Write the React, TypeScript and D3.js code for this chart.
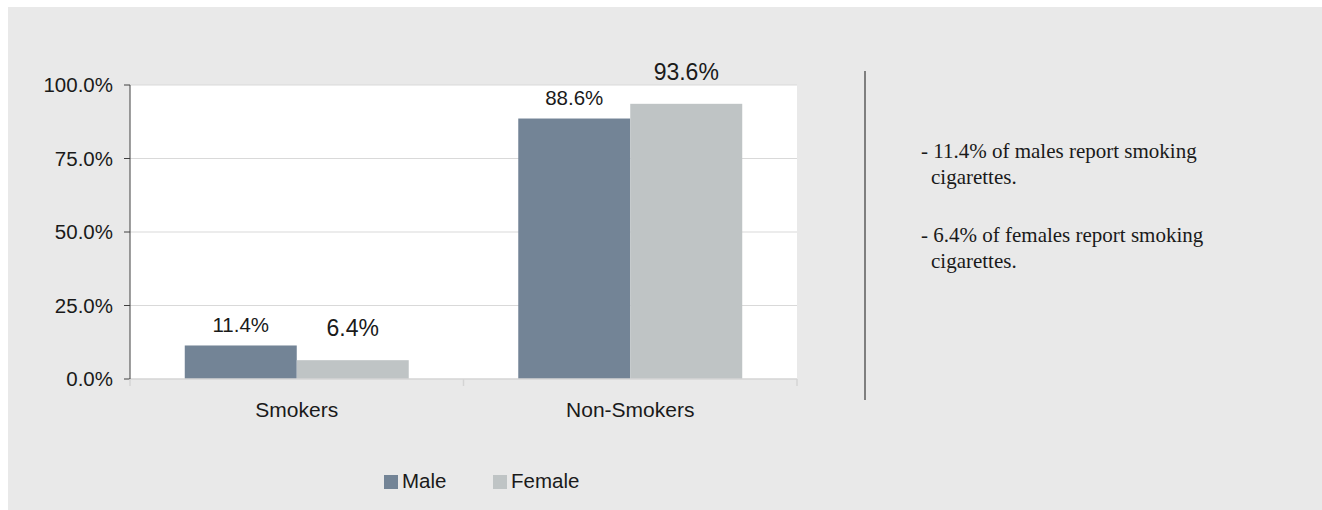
import React, { useEffect } from "react";
import * as d3 from "d3";

const categories = ["Smokers", "Non-Smokers"];
const seriesNames = ["Male", "Female"];
const maleValues = [0.114, 0.886];
const femaleValues = [0.064, 0.936];
const yTicks = [0, 0.25, 0.5, 0.75, 1.0];
const notes = [
  ["- 11.4% of males report smoking", "cigarettes."],
  ["- 6.4% of females report smoking", "cigarettes."],
];

const colors: Record<string, string> = { Male: "#738496", Female: "#bfc4c5" };

export default function App() {
  const W = 1322;
  const H = 510;
  const plot = { left: 130, right: 797, top: 85, bottom: 379 };

  useEffect(() => {
    document.body.style.overflow = "hidden";
    document.documentElement.style.overflow = "hidden";
  }, []);

  const x0 = d3.scaleBand<string>().domain(categories).range([plot.left, plot.right]).paddingInner(0).paddingOuter(0);
  const x1 = d3.scaleBand<string>().domain(seriesNames).range([0, x0.bandwidth()]).paddingInner(0).paddingOuter(0.489);
  const y = d3.scaleLinear().domain([0, 1]).range([plot.bottom, plot.top]);
  const fmt = d3.format(".1%");

  const values: Record<string, number[]> = { Male: maleValues, Female: femaleValues };
  const labelOffset: Record<string, number> = { Male: 13.5, Female: 24 };
  const labelSize: Record<string, number> = { Male: 20.5, Female: 23 };

  const xTickPositions = [plot.left, ...categories.map((c) => (x0(c) as number) + x0.bandwidth())];

  return (
    <svg
      width={W}
      height={H}
      viewBox={`0 0 ${W} ${H}`}
      style={{ position: "fixed", left: 0, top: 0, display: "block", overflow: "visible" }}
      fontFamily="Liberation Sans, Arial, sans-serif"
    >
      <rect x={8} y={7} width={W + 200} height={H + 200} fill="#e9e9e9" />
      <rect x={plot.left} y={plot.top} width={plot.right - plot.left} height={plot.bottom - plot.top} fill="#ffffff" />
      {yTicks.map((t) => (
        <g key={t}>
          {t > 0 && (
            <line x1={plot.left} x2={plot.right} y1={y(t)} y2={y(t)} stroke="#d9d9d9" strokeWidth={1} />
          )}
          <line x1={plot.left - 6} x2={plot.left} y1={y(t)} y2={y(t)} stroke="#404040" strokeWidth={1} />
          <text x={113} y={y(t)} dy="0.35em" textAnchor="end" fontSize={20.5} fill="#1a1a1a">
            {fmt(t)}
          </text>
        </g>
      ))}
      {categories.map((c, i) => (
        <g key={c}>
          {seriesNames.map((s) => {
            const v = values[s][i];
            const bx = (x0(c) as number) + (x1(s) as number);
            return (
              <g key={s}>
                <rect x={bx} y={y(v)} width={x1.bandwidth()} height={y(0) - y(v)} fill={colors[s]} />
                <text
                  x={bx + x1.bandwidth() / 2}
                  y={y(v) - labelOffset[s]}
                  textAnchor="middle"
                  fontSize={labelSize[s]}
                  fill="#1a1a1a"
                >
                  {fmt(v)}
                </text>
              </g>
            );
          })}
          <text
            x={(x0(c) as number) + x0.bandwidth() / 2}
            y={417}
            textAnchor="middle"
            fontSize={21}
            fill="#1a1a1a"
          >
            {c}
          </text>
        </g>
      ))}
      <line x1={plot.left} x2={plot.right} y1={plot.bottom} y2={plot.bottom} stroke="#d4d4d4" strokeWidth={1.5} />
      {xTickPositions.map((xp, i) => (
        <line key={i} x1={xp} x2={xp} y1={plot.bottom} y2={plot.bottom + 7} stroke="#d4d4d4" strokeWidth={1.5} />
      ))}
      <line x1={plot.left} x2={plot.left} y1={plot.top} y2={plot.bottom} stroke="#404040" strokeWidth={1} />

      {seriesNames.map((s, i) => {
        const lx = [384, 493][i];
        return (
          <g key={s}>
            <rect x={lx} y={475} width={14} height={14} fill={colors[s]} />
            <text x={lx + 18} y={488} fontSize={20.5} fill="#1a1a1a">
              {s}
            </text>
          </g>
        );
      })}

      <line x1={865} x2={865} y1={71} y2={400} stroke="#7f7f7f" strokeWidth={2} />
      {notes.map((lines, i) => (
        <g key={i} fontFamily="Liberation Serif, Times New Roman, serif" fontSize={21} fill="#1a1a1a">
          <text x={921} y={158 + i * 83.5}>{lines[0]}</text>
          <text x={931} y={184 + i * 83.5}>{lines[1]}</text>
        </g>
      ))}
    </svg>
  );
}
